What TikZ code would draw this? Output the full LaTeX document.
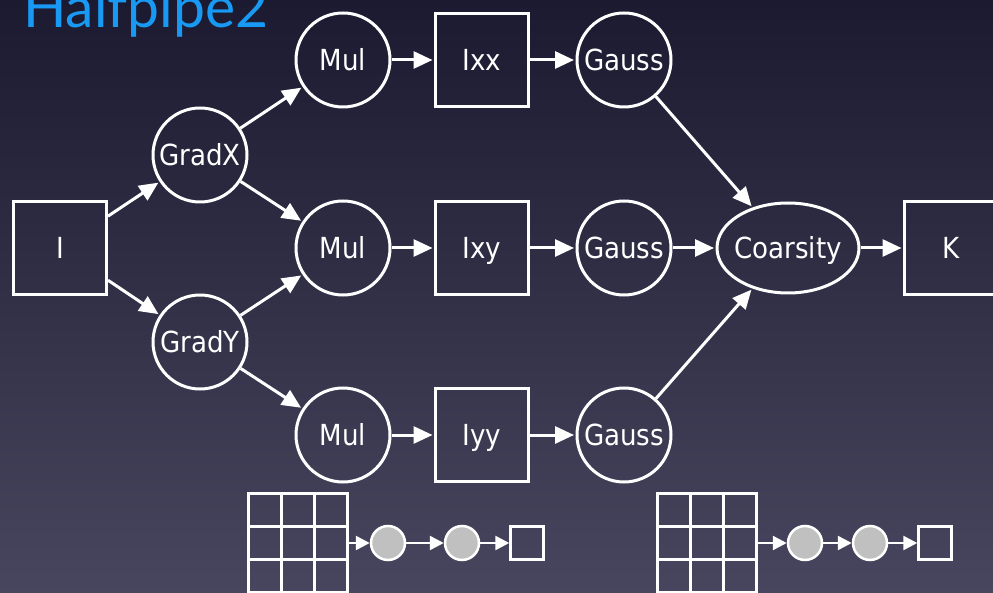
\documentclass[tikz,border=0pt]{standalone}
\usepackage{fontspec}
\setmainfont{DejaVu Sans Condensed}
\newfontfamily\titlefont{Lato}
\usetikzlibrary{arrows.meta,shapes.geometric}

\definecolor{bgtop}{RGB}{27,26,48}
\definecolor{bgbot}{RGB}{72,70,94}
\definecolor{titleblue}{RGB}{24,154,244}
\definecolor{dotgray}{RGB}{192,192,192}

\tikzset{
  every node/.style={text=white, font=\fontsize{29}{34}\selectfont},
  lbl/.style={text height=21pt, text depth=0pt},
  proc/.style={lbl, circle, draw=white, line width=3pt, minimum size=94pt, inner sep=0pt},
  databox/.style={lbl, rectangle, draw=white, line width=3pt, minimum size=93pt, inner sep=0pt},
  oval/.style={lbl, ellipse, draw=white, line width=3pt, minimum width=142pt, minimum height=90pt, inner xsep=-14pt, inner ysep=0pt},
  flow/.style={draw=white, line width=3pt, shorten >=1.5pt, -{Triangle[length=19pt,width=17pt]}},
  smallflow/.style={draw=white, line width=2.5pt, -{Triangle[length=14pt,width=14pt]}},
  dot/.style={circle, draw=white, fill=dotgray, line width=2.5pt, minimum size=34pt, inner sep=0pt},
  cell/.style={rectangle, draw=white, line width=2.5pt, minimum size=33pt, inner sep=0pt},
}

\begin{document}
\begin{tikzpicture}[x=1pt,y=-1pt]
  \useasboundingbox (0,0) rectangle (993,593);
  \clip (0,0) rectangle (993,593);
  \shade[top color=bgtop, bottom color=bgbot] (0,0) rectangle (993,593);

  % title, running off the top edge
  \node[anchor=base west, inner sep=0pt, text=titleblue, font=\titlefont\fontsize{57}{62}\selectfont] (title) at (23,28) {Halfpipe2};

  % main pipeline
  \node[databox] (I) at (60,248) {I};
  \node[proc] (gx) at (200,155) {GradX};
  \node[proc] (gy) at (200,342) {GradY};

  \node[proc] (m1) at (343,60) {Mul};
  \node[proc] (m2) at (343,248) {Mul};
  \node[proc] (m3) at (343,435) {Mul};

  \node[databox] (ixx) at (482,60) {Ixx};
  \node[databox] (ixy) at (482,248) {Ixy};
  \node[databox] (iyy) at (482,435) {Iyy};

  \node[proc] (g1) at (624,60) {Gauss};
  \node[proc] (g2) at (624,248) {Gauss};
  \node[proc] (g3) at (624,435) {Gauss};

  \node[oval] (coa) at (788,248) {Coarsity};
  \node[databox] (K) at (951,248) {K};

  \draw[flow] (I) -- (gx);
  \draw[flow] (I) -- (gy);
  \draw[flow] (gx) -- (m1);
  \draw[flow] (gx) -- (m2);
  \draw[flow] (gy) -- (m2);
  \draw[flow] (gy) -- (m3);
  \draw[flow] (m1) -- (ixx);
  \draw[flow] (m2) -- (ixy);
  \draw[flow] (m3) -- (iyy);
  \draw[flow] (ixx) -- (g1);
  \draw[flow] (ixy) -- (g2);
  \draw[flow] (iyy) -- (g3);
  \draw[flow] (g1) -- (coa);
  \draw[flow] (g2) -- (coa);
  \draw[flow] (g3) -- (coa);
  \draw[flow] (coa) -- (K);

  % small legend chains: grid -> dot -> dot -> square
  \foreach \gx/\tag in {265/a, 674/b} {
    \foreach \r in {0,1,2} {
      \foreach \c in {0,1,2} {
        \node[cell] (\tag c\r\c) at (\gx+33*\c, 510+33*\r) {};
      }
    }
  }
  \coordinate (aright) at (348,543);
  \coordinate (bright) at (756,543);

  \node[dot] (ad1) at (388,543) {};
  \node[dot] (ad2) at (462,543) {};
  \node[cell] (asq) at (527,543) {};
  \draw[smallflow] (aright) -- (ad1);
  \draw[smallflow] (ad1) -- (ad2);
  \draw[smallflow] (ad2) -- (asq);

  \node[dot] (bd1) at (805,543) {};
  \node[dot] (bd2) at (870,543) {};
  \node[cell] (bsq) at (935,543) {};
  \draw[smallflow] (bright) -- (bd1);
  \draw[smallflow] (bd1) -- (bd2);
  \draw[smallflow] (bd2) -- (bsq);
\end{tikzpicture}
\end{document}
